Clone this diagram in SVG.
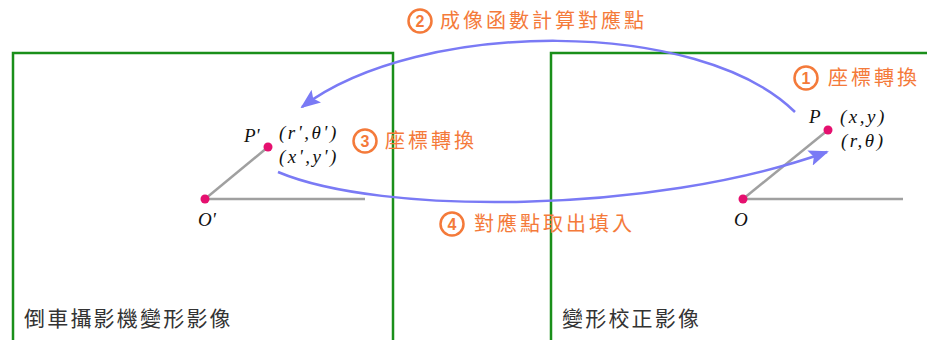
<svg xmlns="http://www.w3.org/2000/svg" width="927" height="340" viewBox="0 0 927 340">
<style>
.box{fill:none;stroke:#1a8f1a;stroke-width:2.5}
.axis{stroke:#a0a0a0;stroke-width:2.5;fill:none}
.dot{fill:#e5106f}
.math{font-family:"Liberation Serif",serif;font-style:italic;font-size:19px;fill:#111;letter-spacing:2.5px}
.pt{letter-spacing:0}
.lbl{font-family:"Noto Sans CJK TC","Noto Sans CJK SC",sans-serif;font-size:20px;fill:#f47a3a;letter-spacing:3px}
.num{font-family:"Liberation Sans",sans-serif;font-weight:bold;font-size:16px;fill:#f47a3a;text-anchor:middle}
.circ{fill:#fff;stroke:#f47a3a;stroke-width:2.5}
.title{font-family:"Noto Sans CJK TC","Noto Sans CJK SC",sans-serif;font-size:21px;fill:#333;letter-spacing:2.2px}
.arc{fill:none;stroke:#7a7af5;stroke-width:2.5}
</style>
<defs>
<marker id="ah2" viewBox="0 0 20 16" refX="18" refY="8" markerWidth="20" markerHeight="16" markerUnits="userSpaceOnUse" orient="auto">
<path d="M0,0 L20,8 L0,16 L4,8 z" fill="#7a7af5"/>
</marker>
</defs>
<g id="left-panel">
<rect class="box" x="13" y="53" width="380" height="300"/>
<text class="title" x="24" y="326">倒車攝影機變形影像</text>
</g>
<g id="right-panel">
<rect class="box" x="551" y="53" width="400" height="300"/>
<text class="title" x="562" y="326">變形校正影像</text>
</g>
<g id="left-point">
<line class="axis" x1="205" y1="199" x2="365" y2="199"/>
<line class="axis" x1="205" y1="199" x2="268" y2="147"/>
<circle class="dot" cx="205" cy="199" r="4.5"/>
<circle class="dot" cx="268" cy="147" r="4.5"/>
<text class="math pt" x="244" y="142">P'</text>
<text class="math pt" x="198" y="226">O'</text>
<text class="math" x="279" y="139">(r',θ')</text>
<text class="math" x="279" y="163">(x',y')</text>
</g>
<g id="right-point">
<line class="axis" x1="743" y1="199" x2="903" y2="199"/>
<line class="axis" x1="743" y1="199" x2="828" y2="130"/>
<circle class="dot" cx="743" cy="199" r="4.5"/>
<circle class="dot" cx="828" cy="130" r="4.5"/>
<text class="math pt" x="809" y="123">P</text>
<text class="math pt" x="734" y="226">O</text>
<text class="math" x="840" y="123">(x,y)</text>
<text class="math" x="841" y="147">(r,θ)</text>
</g>
<g id="connectors">
<path class="arc" d="M795,112 C700,18 420,18 302,107" marker-end="url(#ah2)"/>
<path class="arc" d="M278,172 C380,215 650,215 827,152" marker-end="url(#ah2)"/>
</g>
<g id="label-1">
<circle class="circ" cx="806" cy="78" r="11.5"/>
<text class="num" x="806" y="83.5">1</text>
<text class="lbl" x="828" y="85">座標轉換</text>
</g>
<g id="label-2">
<circle class="circ" cx="420" cy="21" r="11.5"/>
<text class="num" x="420" y="26.5">2</text>
<text class="lbl" x="440" y="28">成像函數計算對應點</text>
</g>
<g id="label-3">
<circle class="circ" cx="365" cy="141" r="11.5"/>
<text class="num" x="365" y="146.5">3</text>
<text class="lbl" x="385" y="148">座標轉換</text>
</g>
<g id="label-4">
<circle class="circ" cx="452" cy="224" r="11.5"/>
<text class="num" x="452" y="229.5">4</text>
<text class="lbl" x="474" y="231">對應點取出填入</text>
</g>
</svg>
